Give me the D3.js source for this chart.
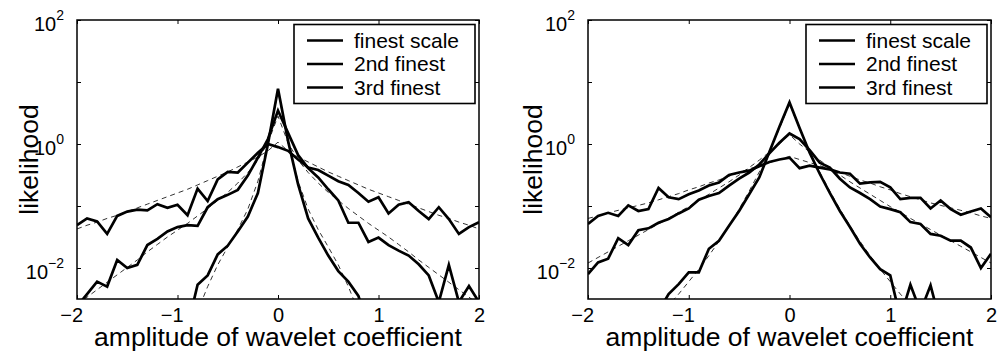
<!DOCTYPE html>
<html>
<head>
<meta charset="utf-8">
<script src="https://cdn.jsdelivr.net/npm/d3@7"></script>
<style>
  body { margin: 0; background: #fff; }
  svg { display: block; font-family: "Liberation Sans", Arial, Helvetica, sans-serif; }
</style>
</head>
<body>
<div id="chart"></div>
<script>
// amplitude bins shared by both panels
const amp = [-2, -1.9, -1.8, -1.7, -1.6, -1.5, -1.4, -1.3, -1.2, -1.1, -1, -0.9, -0.8, -0.7, -0.6, -0.5, -0.4, -0.3, -0.2, -0.1,
  0, 0.1, 0.2, 0.3, 0.4, 0.5, 0.6, 0.7, 0.8, 0.9, 1, 1.1, 1.2, 1.3, 1.4, 1.5, 1.6, 1.7, 1.8, 1.9, 2];

const xTicks = [-2, -1, 0, 1, 2];
const yTicks = [1e-2, 1e-1, 1, 10, 100];
const yLabelExp = { "0.01": "\u22122", "1": "0", "100": "2" };
const legendLabels = ["finest scale", "2nd finest", "3rd finest"];

// left panel, values are log10(likelihood)
const finestL = [-3.6, -3.6, -3.6, -3.6, -3.6, -3.6, -3.6, -3.6, -3.5, -3.5, -3.4, -2.95, -2.27, -2.12, -1.78, -1.64, -1.41, -1.17, -0.79, 0.0,
  0.89, 0.05, -0.65, -1.2, -1.51, -1.8, -2.05, -2.22, -2.45, -2.95, -3.4, -3.5, -3.5, -3.6, -3.6, -3.6, -3.6, -3.6, -3.6, -3.6, -3.6];
const secondL = [-2.62, -2.42, -2.22, -2.30, -1.87, -2.00, -1.95, -1.63, -1.53, -1.41, -1.34, -1.31, -1.32, -1.02, -0.89, -0.82, -0.74, -0.51, -0.22, 0.08,
  0.54, 0.18, -0.18, -0.39, -0.54, -0.73, -0.91, -1.27, -1.27, -1.58, -1.51, -1.63, -1.72, -1.80, -1.94, -2.12, -2.55, -1.95, -2.55, -2.29, -2.55];
const thirdL = [-1.31, -1.20, -1.25, -1.45, -1.16, -1.09, -1.06, -1.07, -0.97, -1.03, -0.98, -1.15, -0.72, -0.92, -0.57, -0.45, -0.46, -0.30, -0.14, 0.00,
  -0.05, -0.11, -0.25, -0.38, -0.42, -0.51, -0.60, -0.66, -0.79, -0.93, -0.86, -1.12, -0.98, -0.94, -1.08, -1.21, -1.02, -1.21, -1.45, -1.34, -1.26];
const finestFitL = [-4.6, -4.4, -4.2, -4.0, -3.9, -3.8, -3.7, -3.6, -3.5, -3.4, -3.3, -3.1, -2.7, -2.3, -1.95, -1.66, -1.38, -1.05, -0.6, 0.02,
  0.85, 0.02, -0.6, -1.05, -1.38, -1.66, -1.95, -2.3, -2.7, -3.1, -3.3, -3.4, -3.5, -3.6, -3.7, -3.8, -3.9, -4.0, -4.2, -4.4, -4.6];
const secondFitL = [-2.59, -2.47, -2.35, -2.23, -2.11, -1.99, -1.87, -1.74, -1.62, -1.5, -1.39, -1.28, -1.16, -1.04, -0.91, -0.78, -0.63, -0.46, -0.26, 0.02,
  0.45, 0.02, -0.26, -0.46, -0.63, -0.78, -0.91, -1.04, -1.16, -1.28, -1.39, -1.5, -1.62, -1.74, -1.87, -1.99, -2.11, -2.23, -2.35, -2.47, -2.59];
const thirdFitL = [-1.37, -1.31, -1.26, -1.2, -1.15, -1.09, -1.03, -0.97, -0.91, -0.85, -0.79, -0.73, -0.66, -0.59, -0.52, -0.45, -0.37, -0.29, -0.21, -0.11,
  0.03, -0.11, -0.21, -0.29, -0.37, -0.45, -0.52, -0.59, -0.66, -0.73, -0.79, -0.85, -0.91, -0.97, -1.03, -1.09, -1.15, -1.2, -1.26, -1.31, -1.37];

// right panel
const finestR = [-3.6, -3.5, -3.4, -3.3, -3.2, -3.1, -2.9, -2.7, -2.42, -2.26, -2.07, -2.07, -1.69, -1.56, -1.32, -1.08, -0.81, -0.54, -0.13, 0.28,
  0.67, 0.26, -0.14, -0.48, -0.79, -1.08, -1.34, -1.61, -1.83, -2.02, -2.12, -2.8, -2.27, -2.7, -2.28, -2.9, -3.1, -3.2, -3.3, -3.4, -3.5];
const secondR = [-2.10, -1.91, -1.85, -1.52, -1.63, -1.39, -1.36, -1.27, -1.21, -1.12, -1.04, -0.90, -0.84, -0.79, -0.67, -0.56, -0.46, -0.33, -0.15, 0.02,
  0.17, 0.08, -0.10, -0.30, -0.38, -0.56, -0.70, -0.79, -0.89, -1.01, -1.05, -1.10, -1.26, -1.29, -1.45, -1.48, -1.56, -1.56, -1.67, -2.00, -1.77];
const thirdR = [-1.29, -1.16, -1.11, -1.16, -0.99, -1.08, -1.05, -0.71, -0.86, -0.89, -0.81, -0.75, -0.67, -0.62, -0.50, -0.46, -0.43, -0.36, -0.29, -0.25,
  -0.22, -0.39, -0.35, -0.38, -0.41, -0.46, -0.48, -0.64, -0.62, -0.61, -0.70, -0.89, -0.87, -0.87, -1.04, -0.91, -1.05, -1.14, -1.09, -1.04, -1.18];
const finestFitR = [-3.85, -3.7, -3.55, -3.4, -3.25, -3.1, -2.95, -2.78, -2.6, -2.42, -2.22, -2.02, -1.8, -1.57, -1.32, -1.05, -0.76, -0.45, -0.12, 0.25,
  0.65, 0.25, -0.12, -0.45, -0.76, -1.05, -1.32, -1.57, -1.8, -2.02, -2.22, -2.42, -2.6, -2.78, -2.95, -3.1, -3.25, -3.4, -3.55, -3.7, -3.85];
const secondFitR = [-1.92, -1.83, -1.74, -1.65, -1.56, -1.47, -1.38, -1.29, -1.2, -1.1, -1.01, -0.91, -0.81, -0.71, -0.61, -0.5, -0.38, -0.26, -0.13, 0.0,
  0.15, 0.0, -0.13, -0.26, -0.38, -0.5, -0.61, -0.71, -0.81, -0.91, -1.01, -1.1, -1.2, -1.29, -1.38, -1.47, -1.56, -1.65, -1.74, -1.83, -1.92];
const thirdFitR = [-1.2, -1.16, -1.11, -1.07, -1.03, -0.99, -0.95, -0.9, -0.85, -0.8, -0.74, -0.69, -0.63, -0.58, -0.52, -0.46, -0.4, -0.35, -0.3, -0.25,
  -0.2, -0.25, -0.3, -0.35, -0.4, -0.46, -0.52, -0.58, -0.63, -0.69, -0.74, -0.8, -0.85, -0.9, -0.95, -0.99, -1.03, -1.07, -1.11, -1.16, -1.2];

const width = 998;
const height = 354;
const plotTop = 20;
const plotBottom = 299;
const tickLen = 4;

const svg = d3.select("#chart")
  .append("svg")
  .attr("width", width)
  .attr("height", height);

svg.append("rect").attr("width", width).attr("height", height).attr("fill", "#fff");

/**
 * Draws one log-likelihood panel
 * @param id key for the clip path
 * @param left, right pixel edges of the axes box
 * @param curves solid series, fits dashed series
 * @param yLabelX baseline of the rotated y label
 */
function drawPanel(id, left, right, curves, fits, yLabelX) {
  const x = d3.scaleLinear().domain([-2, 2]).range([left, right]);
  const y = d3.scaleLog().domain([Math.pow(10, -2.5), 100]).range([plotBottom, plotTop]);

  const g = svg.append("g");

  g.append("clipPath")
    .attr("id", "clip-" + id)
    .append("rect")
    .attr("x", left)
    .attr("y", plotTop)
    .attr("width", right - left)
    .attr("height", plotBottom - plotTop);

  const line = d3.line()
    .x((d) => x(d[0]))
    .y((d) => y(Math.pow(10, d[1])));

  const plot = g.append("g").attr("clip-path", "url(#clip-" + id + ")");

  plot.selectAll("path.curve")
    .data(curves)
    .join("path")
    .attr("class", "curve")
    .attr("d", (s) => line(amp.map((a, i) => [a, s[i]])))
    .attr("fill", "none")
    .attr("stroke", "#000")
    .attr("stroke-width", 2.7);

  plot.selectAll("path.fit")
    .data(fits)
    .join("path")
    .attr("class", "fit")
    .attr("d", (s) => line(amp.map((a, i) => [a, s[i]])))
    .attr("fill", "none")
    .attr("stroke", "#000")
    .attr("stroke-width", 0.8)
    .attr("stroke-dasharray", "5,4");

  // ticks on all four sides, pointing inward
  const xAxis = g.append("g")
    .attr("transform", `translate(0,${plotBottom})`)
    .call(d3.axisBottom(x).tickValues(xTicks).tickSize(-tickLen).tickSizeOuter(0)
      .tickFormat((d) => (d < 0 ? "\u2212" + Math.abs(d) : String(d))));
  xAxis.select(".domain").remove();
  xAxis.selectAll("text")
    .attr("y", 23)
    .attr("dy", null)
    .attr("x", 5.6)
    .attr("text-anchor", "end")
    .attr("font-size", 20)
    .attr("font-family", null)
    .attr("fill", "#000");

  const xTop = g.append("g")
    .attr("transform", `translate(0,${plotTop})`)
    .call(d3.axisTop(x).tickValues(xTicks).tickSize(-tickLen).tickSizeOuter(0).tickFormat(""));
  xTop.select(".domain").remove();

  const yAxis = g.append("g")
    .attr("transform", `translate(${left},0)`)
    .call(d3.axisLeft(y).tickValues(yTicks).tickSize(-tickLen).tickSizeOuter(0).tickFormat(""));
  yAxis.select(".domain").remove();
  yAxis.selectAll(".tick text").each(function (d) {
    const exp = yLabelExp[String(d)];
    if (exp === undefined) return;
    const t = d3.select(this)
      .attr("x", -13)
      .attr("dy", null)
      .attr("y", 10.5)
      .attr("text-anchor", "end")
      .attr("font-size", 20)
      .attr("font-family", null)
      .attr("fill", "#000");
    t.append("tspan").text("10");
    t.append("tspan").attr("dy", -11.5).attr("font-size", 14).text(exp);
  });

  const yRight = g.append("g")
    .attr("transform", `translate(${right},0)`)
    .call(d3.axisRight(y).tickValues(yTicks).tickSize(-tickLen).tickSizeOuter(0).tickFormat(""));
  yRight.select(".domain").remove();

  g.selectAll(".tick line").attr("stroke", "#000").attr("stroke-width", 1);

  g.append("rect")
    .attr("x", left)
    .attr("y", plotTop)
    .attr("width", right - left)
    .attr("height", plotBottom - plotTop)
    .attr("fill", "none")
    .attr("stroke", "#000")
    .attr("stroke-width", 1.5);

  // legend
  const lg = g.append("g").attr("transform", `translate(${right - 185},24.5)`);
  lg.append("rect")
    .attr("width", 181)
    .attr("height", 79)
    .attr("fill", "#fff")
    .attr("stroke", "#000")
    .attr("stroke-width", 1.6);
  const entry = lg.selectAll("g.entry")
    .data(legendLabels)
    .join("g")
    .attr("class", "entry")
    .attr("transform", (d, i) => `translate(0,${16 + i * 23.5})`);
  entry.append("line")
    .attr("x1", 13)
    .attr("x2", 49)
    .attr("stroke", "#000")
    .attr("stroke-width", 2.7);
  entry.append("text")
    .attr("x", 60)
    .attr("y", 7)
    .attr("font-size", 21)
    .attr("fill", "#000")
    .text((d) => d);

  // axis titles
  g.append("text")
    .attr("x", (left + right) / 2)
    .attr("y", 346)
    .attr("text-anchor", "middle")
    .attr("font-size", 26.5)
    .attr("fill", "#000")
    .text("amplitude of wavelet coefficient");

  g.append("text")
    .attr("transform", `translate(${yLabelX},${(plotTop + plotBottom) / 2}) rotate(-90)`)
    .attr("text-anchor", "middle")
    .attr("font-size", 26.5)
    .attr("fill", "#000")
    .text("likelihood");
}

drawPanel("left", 77, 479, [finestL, secondL, thirdL], [finestFitL, secondFitL, thirdFitL], 38);
drawPanel("right", 588, 991, [finestR, secondR, thirdR], [finestFitR, secondFitR, thirdFitR], 542);
</script>
</body>
</html>
